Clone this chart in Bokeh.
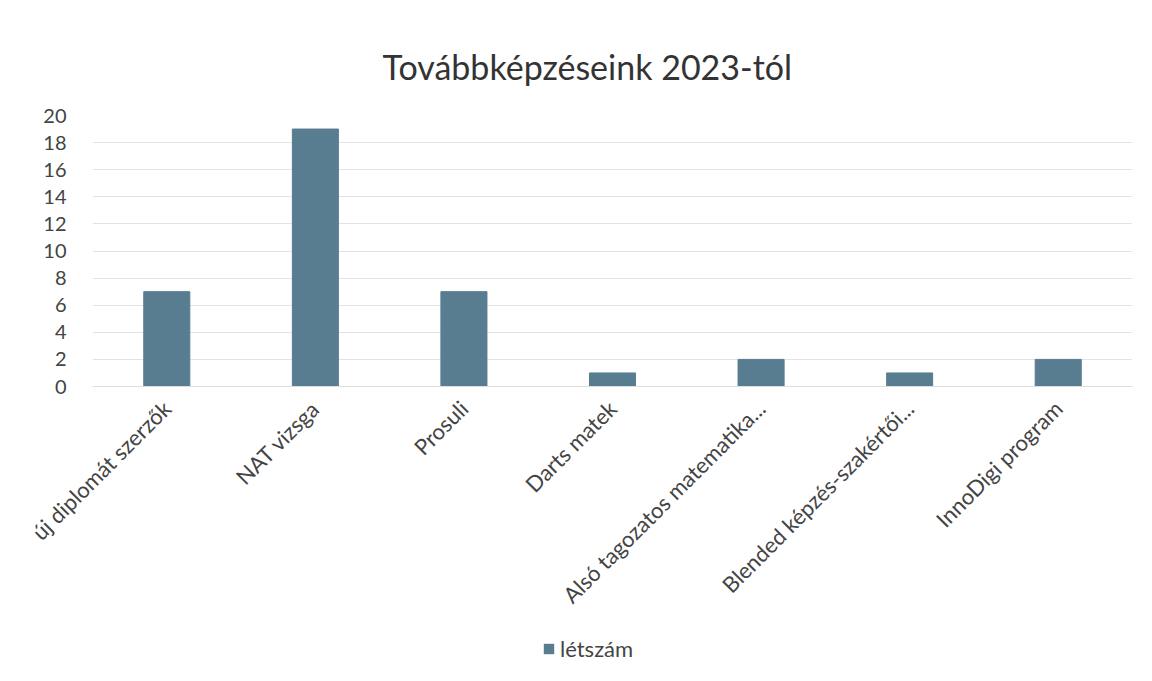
from bokeh.plotting import figure
from bokeh.models import ColumnDataSource, Legend, LegendItem, FixedTicker, Range1d, Spacer
from bokeh.layouts import column
from bokeh.embed import file_html
from bokeh.resources import INLINE
import math

categories = ["új diplomát szerzők", "NAT vizsga", "Prosuli", "Darts matek",
              "Alsó tagozatos matematika...", "Blended képzés-szakértői...", "InnoDigi program"]
letszam = [7, 19, 7, 1, 2, 1, 2]
y_ticks = [0, 2, 4, 6, 8, 10, 12, 14, 16, 18, 20]
series_name = "létszám"

FONT = "Lato"
BAR = "#587d90"

src = ColumnDataSource(dict(cat=categories, val=letszam))

p = figure(x_range=categories, y_range=Range1d(0, 20),
           frame_width=1040, frame_height=271,
           output_backend="svg", toolbar_location=None,
           min_border_left=92, min_border_right=10, min_border_top=10, min_border_bottom=243)
r = p.vbar(x="cat", top="val", width=0.31, source=src, fill_color=BAR, line_color=BAR)

p.title.text = "Továbbképzéseink 2023-tól"
p.title.align = "left"
p.title.offset = 290
p.title.text_font = FONT
p.title.text_font_size = "34px"
p.title.text_font_style = "normal"
p.title.text_color = "#333333"
p.title.standoff = 57

p.outline_line_color = None
p.xgrid.grid_line_color = None
p.ygrid.grid_line_color = "#e3e3e3"
p.yaxis.ticker = FixedTicker(ticks=y_ticks)
p.yaxis.axis_line_color = None
p.yaxis.major_tick_line_color = None
p.yaxis.minor_tick_line_color = None
p.yaxis.major_label_text_font = FONT
p.yaxis.major_label_text_font_size = "20px"
p.yaxis.major_label_text_color = "#444444"
p.yaxis.major_label_standoff = 20

p.xaxis.axis_line_color = "#dddddd"
p.xaxis.major_tick_line_color = None
p.xaxis.minor_tick_line_color = None
p.xaxis.major_label_orientation = math.pi / 4
p.xaxis.major_label_text_font = FONT
p.xaxis.major_label_text_font_size = "22px"
p.xaxis.major_label_text_color = "#444444"
p.xaxis.major_label_standoff = 12

# legend strip (its bars lie entirely outside its visible y range)
p2 = figure(width=1142, height=36, x_range=p.x_range, y_range=Range1d(30, 31),
            output_backend="svg", toolbar_location=None,
            min_border_left=0, min_border_right=0, min_border_top=0, min_border_bottom=0)
p2.axis.visible = False
p2.grid.grid_line_color = None
p2.outline_line_color = None
r2 = p2.vbar(x="cat", top="val", width=0.31, source=src, fill_color=BAR, line_color=None)
legend = Legend(items=[LegendItem(label=series_name, renderers=[r2])],
                location=(450, 3), orientation="horizontal",
                label_text_font=FONT, label_text_font_size="22px",
                label_text_color="#444444", glyph_width=13, glyph_height=13,
                label_standoff=5,
                border_line_color=None, background_fill_alpha=0, margin=0, padding=4)
p2.add_layout(legend, "center")

layout = column(Spacer(height=15), p, p2, spacing=0)
open("out.html", "w").write(file_html(layout, INLINE))
